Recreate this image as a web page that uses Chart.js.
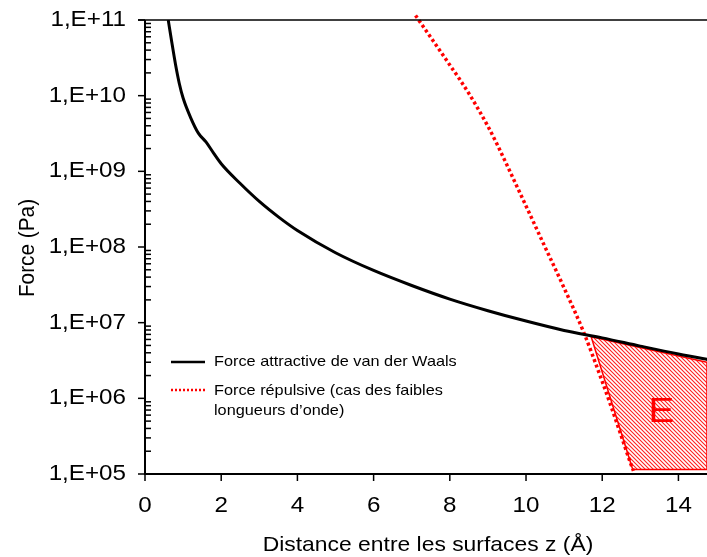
<!DOCTYPE html>
<html>
<head>
<meta charset="utf-8">
<script src="https://cdn.jsdelivr.net/npm/chart.js@4.4.1/dist/chart.umd.min.js"></script>
<style>
  html, body { margin: 0; padding: 0; background: #fff; }
  canvas { display: block; }
</style>
</head>
<body>
<canvas id="chart" width="707" height="557"></canvas>
<script>
// Force attractive de van der Waals : distance z (Å) / force (Pa)
const vdwZ = [0.61, 0.7, 0.8, 0.9, 1.0, 1.2, 1.4, 1.6, 1.8, 2.0, 2.5, 3.0, 3.5, 4.0, 5, 6, 7, 8, 9, 10, 11, 12, 13, 14, 15]
const vdwForce = [1.0e11, 5.2e10, 2.6e10, 1.45e10, 9.3e9, 5.1e9, 3.2e9, 2.45e9, 1.74e9, 1.26e9, 6.9e8, 4.0e8, 2.5e8, 1.65e8, 8.4e7, 4.9e7, 3.1e7, 2.05e7, 1.44e7, 1.05e7, 7.9e6, 6.3e6, 4.9e6, 3.85e6, 3.1e6]

// Force répulsive (cas des faibles longueurs d'onde)
const repZ = [7.1, 7.5, 8.0, 8.25, 8.5, 8.75, 9.0, 9.25, 9.5, 10.0, 10.5, 11.0, 11.5, 12.0, 12.25, 12.5, 12.75, 12.82]
const repForce = [1.15e11, 5.9e10, 2.54e10, 1.67e10, 1.07e10, 6.6e9, 3.94e9, 2.23e9, 1.21e9, 3.48e8, 9.98e7, 2.87e7, 7.76e6, 1.67e6, 7.4e5, 3.18e5, 1.36e5, 1.1e5]

// hatched zone E
const zoneZ = [11.71, 14.75, 14.75, 12.8, 11.71]
const zoneForce = [6.5e6, 3.0e6, 1.15e5, 1.15e5, 6.5e6]

const xTicks = [0, 2, 4, 6, 8, 10, 12, 14]
const yDecades = [1e5, 1e6, 1e7, 1e8, 1e9, 1e10, 1e11]

const FONT = '"Liberation Sans", Arial, sans-serif'
const SX = 1.1 // text in the original is slightly widened

function pts(xs, ys) {
  return xs.map((x, i) => ({ x: x, y: ys[i] }))
}

function makeHatch() {
  const s = 4
  const c = document.createElement('canvas')
  c.width = s
  c.height = s
  const g = c.getContext('2d')
  g.strokeStyle = '#ff2020'
  g.lineWidth = 1.1
  g.beginPath()
  g.moveTo(-1, -1); g.lineTo(s + 1, s + 1)
  g.moveTo(-1, s - 1); g.lineTo(1, s + 1)
  g.moveTo(s - 1, -1); g.lineTo(s + 1, 1)
  g.stroke()
  return g.createPattern(c, 'repeat')
}

function text(ctx, str, x, y, opts) {
  ctx.save()
  ctx.font = opts.font
  ctx.fillStyle = opts.color || '#000'
  ctx.textAlign = opts.align || 'left'
  ctx.textBaseline = 'middle'
  ctx.translate(x, y)
  ctx.scale(SX, 1)
  if (opts.rotate) ctx.rotate(opts.rotate)
  ctx.fillText(str, 0, 0)
  ctx.restore()
}

const decorations = {
  id: 'decorations',
  afterDraw(chart) {
    const ctx = chart.ctx
    const xs = chart.scales.x
    const ys = chart.scales.y
    const area = chart.chartArea

    ctx.save()
    ctx.strokeStyle = '#000'

    // frame top line and axes
    ctx.lineWidth = 1.5
    ctx.beginPath()
    ctx.moveTo(area.left - 7, area.top)
    ctx.lineTo(area.right, area.top)
    ctx.stroke()

    ctx.lineWidth = 2
    ctx.beginPath()
    ctx.moveTo(area.left, area.top)
    ctx.lineTo(area.left, area.bottom)
    ctx.lineTo(area.right, area.bottom)
    ctx.stroke()

    // y ticks: majors outside, minors inside
    ctx.lineWidth = 1.5
    yDecades.forEach((d, i) => {
      const py = ys.getPixelForValue(d)
      ctx.beginPath()
      ctx.moveTo(area.left - 7, py)
      ctx.lineTo(area.left, py)
      ctx.stroke()
      const exp = Math.round(Math.log10(d))
      text(ctx, '1,E+' + String(exp).padStart(2, '0'), area.left - 19, py, { font: '22px ' + FONT, align: 'right' })
      if (i < yDecades.length - 1) {
        for (let k = 2; k <= 9; k++) {
          const my = ys.getPixelForValue(d * k)
          ctx.beginPath()
          ctx.moveTo(area.left, my)
          ctx.lineTo(area.left + 6, my)
          ctx.stroke()
        }
      }
    })

    // x ticks
    xTicks.forEach(t => {
      const px = xs.getPixelForValue(t)
      ctx.beginPath()
      ctx.moveTo(px, area.bottom)
      ctx.lineTo(px, area.bottom + 7)
      ctx.stroke()
      text(ctx, String(t), px, area.bottom + 32, { font: '22px ' + FONT, align: 'center' })
    })

    // axis titles
    text(ctx, 'Distance entre les surfaces z (Å)', 428, 545, { font: '20.8px ' + FONT, align: 'center' })
    text(ctx, 'Force (Pa)', 28, 248, { font: '20.8px ' + FONT, align: 'center', rotate: -Math.PI / 2 })

    // legend
    ctx.lineWidth = 2.5
    ctx.strokeStyle = '#000'
    ctx.beginPath()
    ctx.moveTo(171, 362)
    ctx.lineTo(205, 362)
    ctx.stroke()
    ctx.strokeStyle = '#ff0000'
    ctx.setLineDash([2, 2])
    ctx.beginPath()
    ctx.moveTo(171, 390)
    ctx.lineTo(205, 390)
    ctx.stroke()
    ctx.setLineDash([])
    const lf = '14.8px ' + FONT
    text(ctx, 'Force attractive de van der Waals', 214, 362, { font: lf })
    text(ctx, 'Force répulsive (cas des faibles', 214, 391, { font: lf })
    text(ctx, 'longueurs d’onde)', 214, 411, { font: lf })

    // zone label
    text(ctx, 'E', xs.getPixelForValue(13.55), ys.getPixelForValue(6.6e5), { font: '35px ' + FONT, align: 'center', color: '#ff0000' })

    ctx.restore()
  }
}

const ctx = document.getElementById('chart').getContext('2d')

new Chart(ctx, {
  type: 'line',
  data: {
    datasets: [
      {
        label: 'Force attractive de van der Waals',
        data: pts(vdwZ, vdwForce),
        borderColor: '#000000',
        borderWidth: 3,
        pointRadius: 0,
        cubicInterpolationMode: 'monotone',
        fill: false,
        order: 1
      },
      {
        label: 'Force répulsive (cas des faibles longueurs d’onde)',
        data: pts(repZ, repForce),
        borderColor: '#ff0000',
        borderWidth: 3.5,
        borderDash: [3, 2.8],
        pointRadius: 0,
        cubicInterpolationMode: 'monotone',
        fill: false,
        clip: { left: 0, top: 8, right: 0, bottom: 0 },
        order: 2
      },
      {
        label: 'E',
        data: pts(zoneZ, zoneForce),
        borderColor: '#ff0000',
        borderWidth: 1.5,
        backgroundColor: makeHatch(),
        fill: 'shape',
        pointRadius: 0,
        tension: 0,
        order: 3
      }
    ]
  },
  options: {
    responsive: false,
    animation: false,
    events: [],
    layout: {
      padding: { top: 20, left: 0, right: 0, bottom: 0 }
    },
    plugins: {
      legend: { display: false },
      tooltip: { enabled: false },
      title: { display: false }
    },
    scales: {
      x: {
        type: 'linear',
        min: 0,
        max: 14.75,
        grid: { display: false },
        border: { display: false },
        ticks: { display: false },
        afterFit(scale) { scale.height = 83 }
      },
      y: {
        type: 'logarithmic',
        min: 1e5,
        max: 1e11,
        grid: { display: false },
        border: { display: false },
        ticks: { display: false },
        afterFit(scale) { scale.width = 145 }
      }
    }
  },
  plugins: [decorations]
})
</script>
</body>
</html>
